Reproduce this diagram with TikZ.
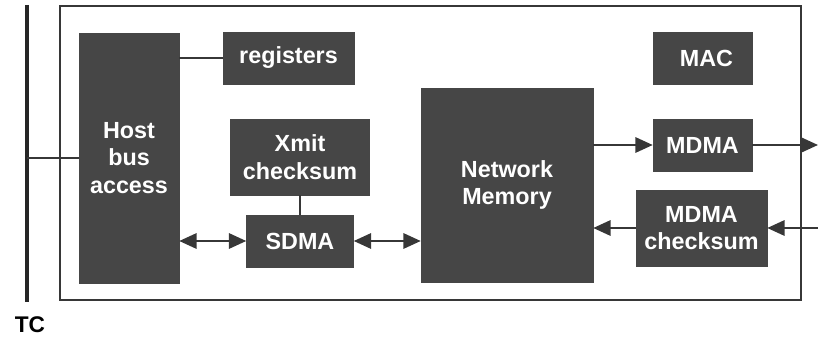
\documentclass[tikz,border=0pt]{standalone}
\usepackage{fontspec}
\setmainfont{Liberation Sans}
\usetikzlibrary{arrows.meta}

\definecolor{boxgray}{RGB}{70,70,70}
\definecolor{linegray}{RGB}{55,55,55}

\tikzset{
    block/.style={fill=boxgray, draw=boxgray, text=white, align=center,
        font=\fontsize{17.5}{20.5}\selectfont\bfseries, inner sep=0pt},
    wire/.style={draw=linegray, line width=1.6pt},
    flow/.style={wire, -{Triangle[length=13pt,width=11.5pt]}},
    dflow/.style={wire, {Triangle[length=13pt,width=11.5pt]}-{Triangle[length=13pt,width=11.5pt]}}
}

\begin{document}
\begin{tikzpicture}[x=0.75pt,y=-0.75pt]
        \useasboundingbox (0,0) rectangle (818,341);

        % Outer frame of the board
        \node[draw=linegray, line width=1.2pt, minimum width=555.75pt, minimum height=220.5pt] (chip) at (430.5,153) {};

        % The TC bus on the left
        \coordinate (bustop) at (27,5);
        \coordinate (busbot) at (27,302);
        \draw[draw=black!85, line width=3pt] (bustop) -- (busbot);
        \node[font=\fontsize{17}{20}\selectfont\bfseries] (tc) at (30,325) {TC};

        % Blocks
        \node[block, minimum width=75pt, minimum height=187.5pt] (host) at (129,158) {Host\\bus\\access};
        \node[block, minimum width=98.25pt, minimum height=39pt] (reg) at (288.5,58) {registers};
        \node[block, minimum width=104.25pt, minimum height=57pt] (xmit) at (300,157) {Xmit\\checksum};
        \node[block, minimum width=80.25pt, minimum height=39pt] (sdma) at (300,241) {SDMA};
        \node[block, minimum width=129pt, minimum height=145.5pt] (netmem) at (507,185) {Network\\Memory};
        \node[block, minimum width=74.25pt, minimum height=39pt] (mac) at (702.5,58) {\hspace{6pt}MAC};
        \node[block, minimum width=74.25pt, minimum height=39pt] (mdma) at (702.5,145) {MDMA};
        \node[block, minimum width=98.25pt, minimum height=57pt] (mdmack) at (701.5,228) {MDMA\\checksum};

        % Plain connections
        \draw[wire] (bustop |- host.west) -- (host.west);
        \draw[wire] (host.east |- reg.west) -- (reg.west);
        \draw[wire] (xmit.south) -- (sdma.north);

        % Data paths
        \draw[dflow] (host.east |- sdma.west) -- (sdma.west);
        \draw[dflow] (sdma.east) -- (netmem.west |- sdma.east);
        \draw[flow] (netmem.east |- mdma.west) -- (mdma.west);
        \coordinate (outtx) at (818,145);
        \coordinate (inrx) at (818,228);
        \draw[flow] (mdma.east) -- (outtx);
        \draw[flow] (inrx) -- (mdmack.east);
        \draw[flow] (mdmack.west) -- (netmem.east |- mdmack.west);

\end{tikzpicture}
\end{document}
